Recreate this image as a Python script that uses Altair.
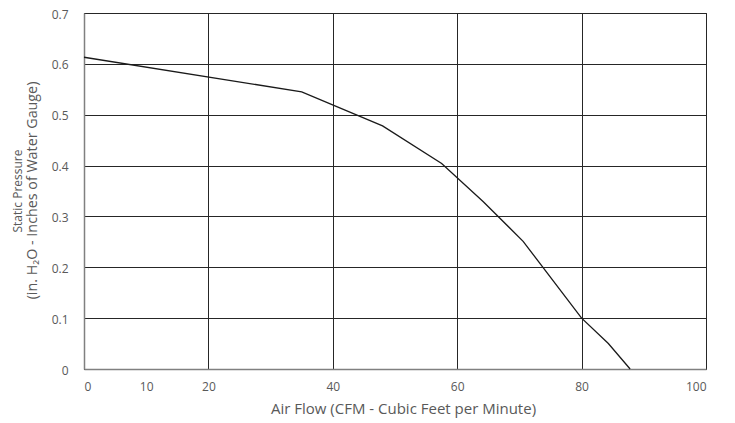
import altair as alt
import pandas as pd

airflow = [0, 35, 48, 57.5, 64.2, 70.6, 80, 84.3, 87.8]
pressure = [0.613, 0.545, 0.478, 0.404, 0.329, 0.251, 0.1, 0.05, 0.0]
x_labels = [0, 10, 20, 40, 60, 80, 100]
y_ticks = [0, 0.1, 0.2, 0.3, 0.4, 0.5, 0.6, 0.7]

df = pd.DataFrame({"flow": airflow, "pressure": pressure})

FONT = "Open Sans"
TXT = "#595959"

chart = alt.Chart(df).mark_line(color="#1a1a1a", strokeWidth=1.3).encode(
    x=alt.X("flow:Q",
            scale=alt.Scale(domain=[0, 100], nice=False, zero=False),
            axis=alt.Axis(values=x_labels, ticks=False, labelPadding=12,
                          grid=True, gridColor="#262626", gridWidth=1,
                          gridOpacity=alt.expr("datum.value == 10 ? 0 : 1"),
                          domainColor="#808080", domainWidth=1.5,
                          labelFont=FONT, labelFontSize=12, labelColor=TXT,
                          title="Air Flow (CFM - Cubic Feet per Minute)",
                          titleFont=FONT, titleFontSize=15, titleColor=TXT,
                          titleFontWeight="normal", titleBaseline="middle",
                          titleX=319, titleY=39)),
    y=alt.Y("pressure:Q",
            scale=alt.Scale(domain=[0, 0.7], nice=False),
            axis=alt.Axis(values=y_ticks, format=".1~f", ticks=False, labelPadding=16,
                          labelOffset=1,
                          grid=True, gridColor="#262626", gridWidth=1,
                          domainColor="#808080", domainWidth=1.5,
                          labelFont=FONT, labelFontSize=12, labelColor=TXT,
                          title="(in. H₂O - Inches of Water Gauge)",
                          titleFont=FONT, titleFontSize=14.3, titleColor=TXT,
                          titleFontWeight="normal", titleAngle=-90,
                          titleBaseline="top", titleAlign="center",
                          titleX=-59, titleY=177)),
).properties(
    width=622, height=356,
    autosize=alt.AutoSizeParams(type="none"),
    padding={"left": 76, "top": 5, "right": 21, "bottom": 54},
    title=alt.TitleParams("Static Pressure", orient="left", anchor="middle",
                          font=FONT, fontSize=12, fontWeight="normal",
                          color=TXT, offset=0),
).configure_view(stroke="#262626", strokeWidth=1)

chart.save("out.html", embed_options={"renderer": "svg", "actions": False})
